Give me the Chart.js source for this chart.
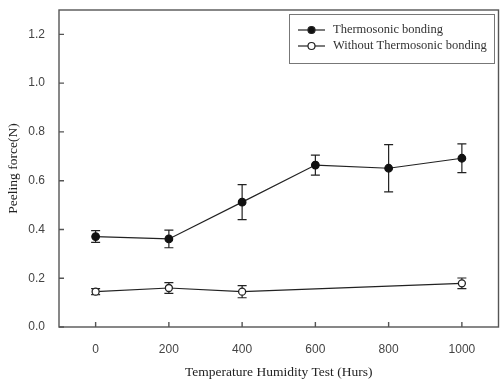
<!DOCTYPE html>
<html>
<head>
<meta charset="utf-8">
<script src="https://cdn.jsdelivr.net/npm/chart.js@4/dist/chart.umd.min.js"></script>
<style>
  html, body { margin: 0; padding: 0; background: #fff; }
  #wrap { width: 500px; height: 381px; }
</style>
</head>
<body>
<div id="wrap"><canvas id="plot" width="500" height="381"></canvas></div>
<script>
// data
const hours = [0, 200, 400, 600, 800, 1000];
const bondedMean = [0.371, 0.361, 0.512, 0.664, 0.651, 0.692];
const bondedErr = [0.024, 0.036, 0.072, 0.041, 0.097, 0.059];

const plainHours = [0, 200, 400, 1000];
const plainMean = [0.145, 0.160, 0.145, 0.179];
const plainErr = [0.012, 0.022, 0.025, 0.022];

const xTicks = [0, 200, 400, 600, 800, 1000];
const yTicks = [0.0, 0.2, 0.4, 0.6, 0.8, 1.0, 1.2];

const labelBonded = 'Thermosonic bonding';
const labelPlain = 'Without Thermosonic bonding';

const toPoints = (xs, ys, es) => xs.map((x, i) => ({ x: x, y: ys[i], err: es[i] }));

const axisColor = '#555';
const serif = '"Liberation Serif", "Times New Roman", serif';
const sans = '"Liberation Sans", Arial, sans-serif';

// error bars, inward ticks, frame and legend
const extras = {
    id: 'extras',
    beforeDatasetsDraw(chart) {
        const ctx = chart.ctx;
        const xs = chart.scales.x, ys = chart.scales.y;
        ctx.save();
        ctx.strokeStyle = '#222';
        ctx.lineWidth = 1.2;
        chart.data.datasets.forEach(ds => {
            ds.data.forEach(p => {
                const px = xs.getPixelForValue(p.x);
                const top = ys.getPixelForValue(p.y + p.err);
                const bot = ys.getPixelForValue(p.y - p.err);
                ctx.beginPath();
                ctx.moveTo(px, top); ctx.lineTo(px, bot);
                ctx.moveTo(px - 4.5, top); ctx.lineTo(px + 4.5, top);
                ctx.moveTo(px - 4.5, bot); ctx.lineTo(px + 4.5, bot);
                ctx.stroke();
            });
        });
        ctx.restore();
    },
    afterDraw(chart) {
        const ctx = chart.ctx;
        const a = chart.chartArea;
        const xs = chart.scales.x, ys = chart.scales.y;
        ctx.save();
        ctx.strokeStyle = axisColor;
        ctx.lineWidth = 1.4;
        ctx.strokeRect(a.left, a.top, a.right - a.left, a.bottom - a.top);
        ctx.beginPath();
        xTicks.forEach(v => {
            const px = xs.getPixelForValue(v);
            ctx.moveTo(px, a.bottom); ctx.lineTo(px, a.bottom - 5);
        });
        yTicks.forEach(v => {
            const py = ys.getPixelForValue(v);
            ctx.moveTo(a.left, py); ctx.lineTo(a.left + 5, py);
        });
        ctx.stroke();

        // legend
        const bx = 289, by = 14, bw = 205, bh = 49;
        ctx.strokeStyle = '#777';
        ctx.lineWidth = 1;
        ctx.strokeRect(bx + 0.5, by + 0.5, bw, bh);
        const rows = [
            { y: 30, label: labelBonded, fill: '#111' },
            { y: 46, label: labelPlain, fill: '#fff' }
        ];
        rows.forEach(r => {
            ctx.strokeStyle = '#222';
            ctx.lineWidth = 1.2;
            ctx.beginPath();
            ctx.moveTo(298, r.y); ctx.lineTo(325, r.y);
            ctx.stroke();
            ctx.beginPath();
            ctx.arc(311.5, r.y, 3.5, 0, Math.PI * 2);
            ctx.fillStyle = r.fill;
            ctx.fill();
            ctx.stroke();
            ctx.fillStyle = '#333';
            ctx.font = '12.5px ' + serif;
            ctx.textBaseline = 'middle';
            ctx.textAlign = 'left';
            ctx.fillText(r.label, 333, r.y);
        });
        ctx.restore();
    }
};

new Chart(document.getElementById('plot'), {
    type: 'scatter',
    data: {
        datasets: [
            {
                label: labelBonded,
                data: toPoints(hours, bondedMean, bondedErr),
                showLine: true,
                borderColor: '#222',
                borderWidth: 1.2,
                pointRadius: 3.8,
                pointBackgroundColor: '#111',
                pointBorderColor: '#111',
                pointBorderWidth: 1.2
            },
            {
                label: labelPlain,
                data: toPoints(plainHours, plainMean, plainErr),
                showLine: true,
                borderColor: '#222',
                borderWidth: 1.2,
                pointRadius: 3.5,
                pointBackgroundColor: '#fff',
                pointBorderColor: '#222',
                pointBorderWidth: 1.3
            }
        ]
    },
    options: {
        responsive: false,
        animation: false,
        devicePixelRatio: 1,
        layout: { autoPadding: false, padding: { top: 10, right: 1.5, left: 0, bottom: 0 } },
        plugins: {
            legend: { display: false },
            tooltip: { enabled: false }
        },
        scales: {
            x: {
                type: 'linear',
                min: -100,
                max: 1100,
                afterBuildTicks: s => { s.ticks = xTicks.map(v => ({ value: v })); },
                afterFit: s => { s.height = 54; s.paddingLeft = 0; s.paddingRight = 0; },
                grid: { display: false },
                border: { display: false },
                ticks: {
                    color: '#444',
                    font: { family: sans, size: 12 },
                    padding: 7,
                    maxRotation: 0,
                    callback: v => String(v)
                },
                title: {
                    display: true,
                    text: 'Temperature Humidity Test (Hurs)',
                    color: '#222',
                    font: { family: serif, size: 13.5 },
                    padding: { top: 6, bottom: 0 }
                }
            },
            y: {
                type: 'linear',
                min: 0,
                max: 1.3,
                afterBuildTicks: s => { s.ticks = yTicks.map(v => ({ value: v })); },
                afterFit: s => { s.width = 59; s.paddingTop = 0; s.paddingBottom = 0; },
                grid: { display: false },
                border: { display: false },
                ticks: {
                    color: '#444',
                    font: { family: sans, size: 12 },
                    padding: 6,
                    callback: v => v.toFixed(1)
                },
                title: {
                    display: true,
                    text: 'Peeling force(N)',
                    color: '#222',
                    font: { family: serif, size: 13.5 },
                    padding: { top: 5, bottom: 0 }
                }
            }
        }
    },
    plugins: [extras]
});
</script>
</body>
</html>
